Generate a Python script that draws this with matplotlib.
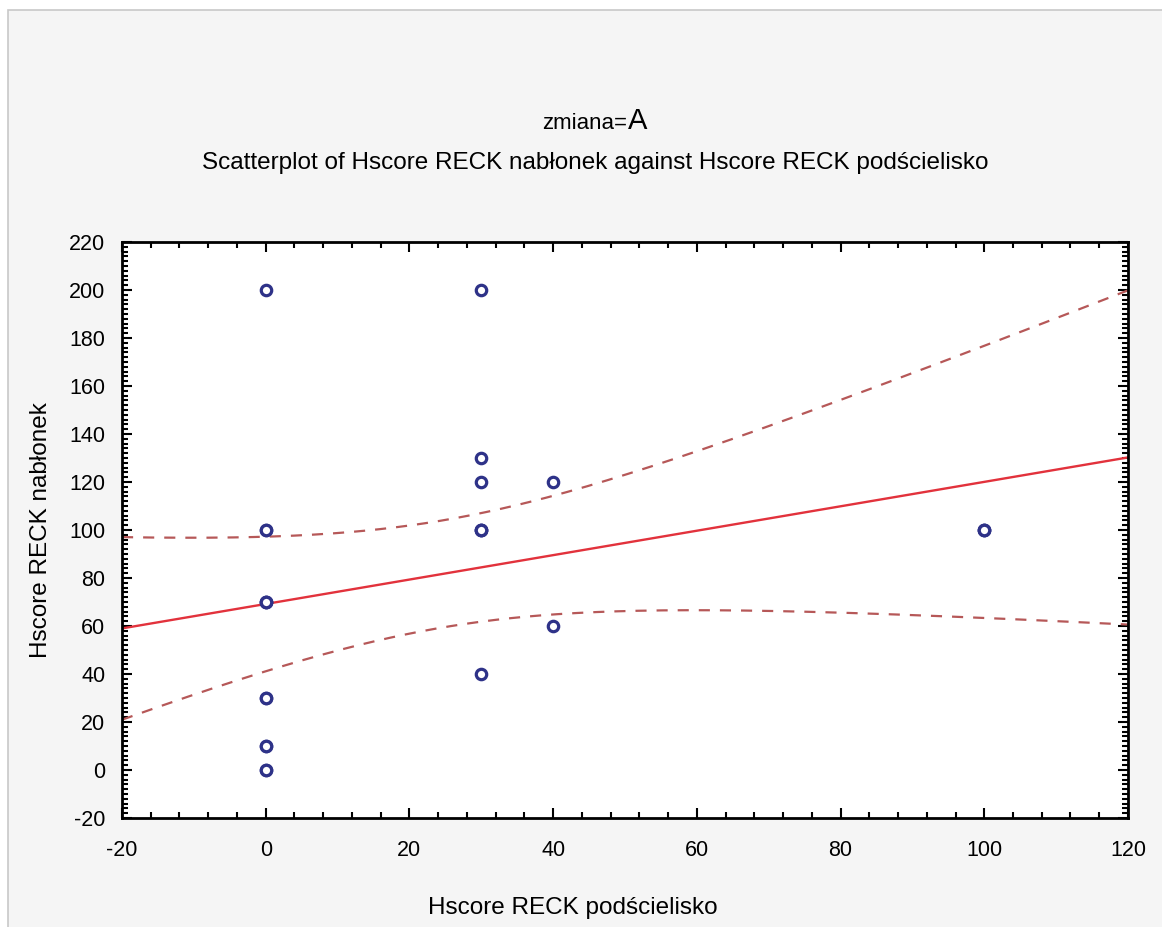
"""
Scatterplot with linear fit and 95% confidence bands (Statistica style).
"""
import numpy as np
import matplotlib.pyplot as plt
from matplotlib.patches import Rectangle
from matplotlib.ticker import MultipleLocator

plt.rcParams['font.family'] = ['Liberation Sans', 'DejaVu Sans']
plt.rcParams['axes.unicode_minus'] = False

# Hscore RECK podścielisko (x) / nabłonek (y), overlapping points repeated
x_vals = [0] * 12 + [30] * 7 + [40] * 2 + [100] * 3
y_vals = [200, 100, 100, 70, 70, 70, 30, 30, 10, 10, 0, 0,
          200, 130, 120, 100, 100, 100, 40,
          120, 60,
          100, 100, 100]

x_ticks = np.arange(-20, 121, 20)
y_ticks = np.arange(-20, 221, 20)
T_CRIT = 2.074  # t(0.975, df = n - 2 = 22)

x = np.array(x_vals, dtype=float)
y = np.array(y_vals, dtype=float)
n = len(x)

# linear regression + confidence band for the mean
slope, intercept = np.polyfit(x, y, 1)
resid = y - (intercept + slope * x)
s = np.sqrt(np.sum(resid ** 2) / (n - 2))
sxx = np.sum((x - x.mean()) ** 2)
xs = np.linspace(-20, 120, 200)
fit = intercept + slope * xs
hw = T_CRIT * s * np.sqrt(1.0 / n + (xs - x.mean()) ** 2 / sxx)

fig = plt.figure(figsize=(11.62, 9.27), dpi=100, facecolor='white')
fig.patches.append(Rectangle((0.007, -0.01), 1.0, 0.999, transform=fig.transFigure,
                             facecolor='#f5f5f5', edgecolor='#c8c8c8', lw=1.2, zorder=-10))

ax = fig.add_axes([0.105, 0.1176, 0.8657, 0.6214])
ax.set_facecolor('white')

band_color = '#b65858'
ax.plot(xs, fit, color='#e2323c', lw=1.7, zorder=2)
ax.plot(xs, fit + hw, color=band_color, lw=1.6, dashes=(5, 4.5), zorder=2)
ax.plot(xs, fit - hw, color=band_color, lw=1.6, dashes=(5, 4.5), zorder=2)

ax.plot(x, y, 'o', ms=7.5, mfc='white', mec='#2e3288', mew=2.3, zorder=3,
        clip_on=False)

ax.set_xlim(-20, 120)
ax.set_ylim(-20, 220)
ax.set_xticks(x_ticks)
ax.set_yticks(y_ticks)
ax.xaxis.set_minor_locator(MultipleLocator(4))
ax.yaxis.set_minor_locator(MultipleLocator(2))
ax.tick_params(which='both', direction='in', top=True, right=True,
               width=1.5, colors='black', labelsize=15.5)
ax.tick_params(which='major', length=7)
ax.tick_params(which='minor', length=4)
ax.tick_params(axis='x', which='major', pad=16)
ax.tick_params(axis='y', which='major', pad=12)
for sp in ax.spines.values():
    sp.set_linewidth(2)

ax.set_xlabel('Hscore RECK podścielisko', fontsize=17.5, labelpad=26, x=0.448)
ax.set_ylabel('Hscore RECK nabłonek', fontsize=17.5, labelpad=12)

fig.text(0.54, 0.861, 'zmiana=', fontsize=16, ha='right', va='baseline')
fig.text(0.54, 0.861, 'A', fontsize=21, ha='left', va='baseline')
fig.text(0.512, 0.818, 'Scatterplot of Hscore RECK nabłonek against Hscore RECK podścielisko',
         fontsize=17.5, ha='center', va='baseline')

plt.savefig('out.png', dpi=100, facecolor=fig.get_facecolor())
